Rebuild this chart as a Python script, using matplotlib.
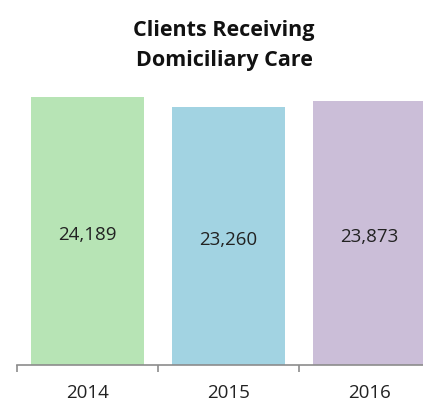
import matplotlib
matplotlib.use("Agg")
import matplotlib.pyplot as plt

# Chart data
years = ["2014", "2015", "2016"]
clients = [24189, 23260, 23873]
bar_colors = ["#b7e4b5", "#a2d3e2", "#cbbed8"]

plt.rcParams['font.family'] = ['Open Sans', 'DejaVu Sans']

fig = plt.figure(figsize=(4.23, 4.03), dpi=100)
ax = fig.add_axes([17 / 423, 38 / 403, 1 - 17 / 423, 275 / 403])

x = list(range(len(years)))
bars = ax.bar(x, clients, width=0.8, color=bar_colors)

for xi, v in zip(x, clients):
    ax.text(xi, v / 2 - 350, f"{v:,}", ha="center", va="center",
            fontsize=13.5, color="#222222")

ax.set_xlim(-0.5, 2.38)
ax.set_ylim(0, 24822)

for s in ["top", "right", "left"]:
    ax.spines[s].set_visible(False)
ax.spines["bottom"].set_color("#8c8c8c")
ax.spines["bottom"].set_linewidth(1.2)

ax.set_yticks([])
ax.set_xticks(x)
ax.set_xticklabels(years, fontsize=13.5, color="#222222")
ax.tick_params(axis="x", which="major", length=0, pad=14)
ax.set_xticks([-0.5, 0.5, 1.5], minor=True)
ax.tick_params(axis="x", which="minor", length=5, width=1.2,
               color="#8c8c8c", direction="out")

fig.text(0.53, 0.887, "Clients Receiving\nDomiciliary Care", ha="center",
         va="center", fontsize=15.5, fontweight="bold", color="#111111",
         linespacing=1.6)

fig.savefig("out.png", dpi=100)
